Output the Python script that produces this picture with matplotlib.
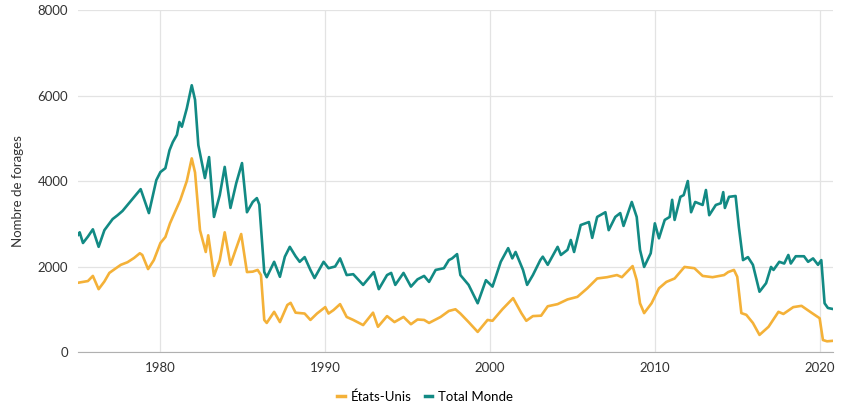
import matplotlib
matplotlib.use("Agg")
from matplotlib import pyplot as plt
from matplotlib.lines import Line2D

plt.rcParams['font.family'] = ['Lato', 'DejaVu Sans']

# Etats-Unis (year, rigs)
us_years = [1975.0, 1975.3, 1975.6, 1975.9, 1976.25, 1976.6, 1976.9, 1977.3, 1977.6, 1978.0,
            1978.4, 1978.75, 1978.9, 1979.25, 1979.6, 1980.0, 1980.3, 1980.58, 1980.75, 1981.2,
            1981.6, 1981.9, 1982.1, 1982.4, 1982.75, 1982.9, 1983.25, 1983.6, 1983.9, 1984.25,
            1984.6, 1984.9, 1985.25, 1985.6, 1985.9, 1986.1, 1986.3, 1986.45, 1986.9, 1987.25,
            1987.7, 1987.9, 1988.2, 1988.75, 1989.1, 1989.5, 1990.0, 1990.2, 1990.5, 1990.9,
            1991.3, 1991.7, 1992.3, 1992.9, 1993.2, 1993.75, 1994.2, 1994.75, 1995.2, 1995.6,
            1996.0, 1996.3, 1997.0, 1997.5, 1997.9, 1998.2, 1998.7, 1999.25, 1999.85, 2000.15,
            2000.75, 2001.4, 2001.9, 2002.2, 2002.6, 2003.1, 2003.5, 2004.1, 2004.7, 2005.3,
            2005.9, 2006.5, 2007.1, 2007.7, 2008.0, 2008.65, 2008.9, 2009.1, 2009.35, 2009.8,
            2010.25, 2010.7, 2011.2, 2011.8, 2012.4, 2012.9, 2013.5, 2014.2, 2014.45, 2014.8,
            2015.0, 2015.25, 2015.55, 2015.95, 2016.35, 2016.9, 2017.5, 2017.8, 2018.4, 2018.9,
            2019.5, 2020.0, 2020.2, 2020.45, 2020.75]
us_rigs = [1620, 1640, 1660, 1780, 1470, 1650, 1850, 1960, 2040, 2100,
           2200, 2310, 2270, 1940, 2150, 2550, 2690, 3010, 3160, 3550,
           4000, 4530, 4200, 2850, 2340, 2730, 1780, 2150, 2800, 2040,
           2430, 2760, 1870, 1880, 1920, 1800, 750, 680, 940, 700,
           1100, 1150, 920, 900, 750, 900, 1050, 900, 980, 1120,
           820, 750, 630, 920, 590, 840, 700, 820, 650, 760,
           750, 680, 820, 960, 1000, 900, 700, 470, 750, 730,
           1000, 1260, 910, 730, 840, 850, 1070, 1120, 1230, 1290,
           1490, 1720, 1750, 1800, 1750, 2010, 1680, 1140, 910, 1140,
           1490, 1640, 1720, 1990, 1960, 1780, 1750, 1800, 1870, 1920,
           1760, 910, 870, 680, 400, 590, 940, 890, 1050, 1080,
           920, 790, 280, 250, 260]

# Total Monde (year, rigs)
world_years = [1975.0, 1975.1, 1975.3, 1975.6, 1975.9, 1976.25, 1976.6, 1977.1, 1977.4, 1977.7,
               1978.0, 1978.5, 1978.8, 1979.3, 1979.75, 1980.0, 1980.3, 1980.55, 1980.75, 1981.0,
               1981.15, 1981.3, 1981.6, 1981.9, 1982.1, 1982.3, 1982.7, 1982.95, 1983.25, 1983.6,
               1983.9, 1984.25, 1984.6, 1984.95, 1985.25, 1985.6, 1985.85, 1986.0, 1986.3, 1986.45,
               1986.9, 1987.25, 1987.55, 1987.85, 1988.2, 1988.45, 1988.75, 1989.1, 1989.35, 1989.9,
               1990.2, 1990.6, 1990.9, 1991.3, 1991.7, 1992.3, 1992.95, 1993.25, 1993.75, 1994.0,
               1994.25, 1994.75, 1995.2, 1995.6, 1996.0, 1996.3, 1996.7, 1997.2, 1997.5, 1997.7,
               1998.0, 1998.2, 1998.7, 1999.25, 1999.75, 2000.15, 2000.65, 2001.1, 2001.35, 2001.55,
               2002.0, 2002.25, 2002.6, 2003.05, 2003.2, 2003.5, 2004.1, 2004.3, 2004.7, 2004.9,
               2005.1, 2005.5, 2006.0, 2006.2, 2006.5, 2007.0, 2007.2, 2007.6, 2007.9, 2008.1,
               2008.6, 2008.9, 2009.1, 2009.35, 2009.75, 2010.0, 2010.25, 2010.6, 2010.9, 2011.05,
               2011.2, 2011.55, 2011.75, 2012.0, 2012.2, 2012.45, 2012.9, 2013.1, 2013.3, 2013.7,
               2014.0, 2014.15, 2014.25, 2014.5, 2014.9, 2015.1, 2015.35, 2015.65, 2015.95, 2016.35,
               2016.75, 2017.05, 2017.2, 2017.55, 2017.85, 2018.1, 2018.25, 2018.55, 2019.05, 2019.3,
               2019.6, 2019.9, 2020.1, 2020.3, 2020.5, 2020.75]
world_rigs = [2740, 2800, 2550, 2700, 2870, 2460, 2850, 3110, 3200, 3300,
              3440, 3670, 3810, 3250, 4020, 4210, 4300, 4720, 4910, 5080,
              5380, 5270, 5700, 6240, 5900, 4840, 4070, 4560, 3160, 3670,
              4330, 3370, 3950, 4420, 3270, 3510, 3600, 3450, 1870, 1750,
              2110, 1760, 2230, 2460, 2240, 2110, 2220, 1920, 1730, 2110,
              1960, 2000, 2190, 1800, 1820, 1570, 1870, 1470, 1800, 1850,
              1570, 1850, 1530, 1700, 1780, 1640, 1920, 1960, 2150, 2190,
              2290, 1800, 1570, 1140, 1680, 1530, 2110, 2430, 2190, 2340,
              1920, 1570, 1800, 2150, 2230, 2040, 2460, 2270, 2390, 2620,
              2340, 2970, 3040, 2670, 3160, 3270, 2850, 3160, 3250, 2950,
              3510, 3160, 2390, 1990, 2310, 3010, 2660, 3090, 3160, 3560,
              3090, 3630, 3670, 4000, 3270, 3510, 3440, 3790, 3200, 3440,
              3480, 3740, 3370, 3630, 3650, 2920, 2150, 2220, 2040, 1410,
              1610, 1990, 1920, 2110, 2070, 2270, 2070, 2240, 2240, 2110,
              2190, 2040, 2150, 1140, 1030, 1010]

orange = '#f4b138'
teal = '#128a84'

fig = plt.figure(figsize=(8.5, 4.15), dpi=100)
ax = fig.add_axes([0.0918, 0.1518, 0.888, 0.824])

ax.plot(us_years, us_rigs, color=orange, lw=1.9, solid_joinstyle='round')
ax.plot(world_years, world_rigs, color=teal, lw=1.9, solid_joinstyle='round')

ax.set_xlim(1975.0, 2020.8)
ax.set_ylim(0, 8000)
ax.set_yticks([0, 2000, 4000, 6000, 8000])
ax.set_xticks([1980, 1990, 2000, 2010, 2020])
ax.grid(True, color='#e3e3e3', lw=0.9)
ax.set_axisbelow(True)
for s in ['top', 'right', 'left']:
    ax.spines[s].set_visible(False)
ax.spines['bottom'].set_color('#b0b0b0')
ax.tick_params(length=0, labelsize=9.5, labelcolor='#333333', pad=7)

ax.set_ylabel('Nombre de forages', fontsize=9.5, color='#333333')
ax.yaxis.set_label_coords(-0.072, 0.47)

handles = [Line2D([], [], color=orange, lw=2.5), Line2D([], [], color=teal, lw=2.5)]
fig.legend(handles, ['États-Unis', 'Total Monde'], loc='center', bbox_to_anchor=(0.5, 0.045),
           ncol=2, frameon=False, fontsize=9.5, handlelength=0.6, handletextpad=0.4,
           columnspacing=1.0)

fig.savefig('out.png', dpi=100)
